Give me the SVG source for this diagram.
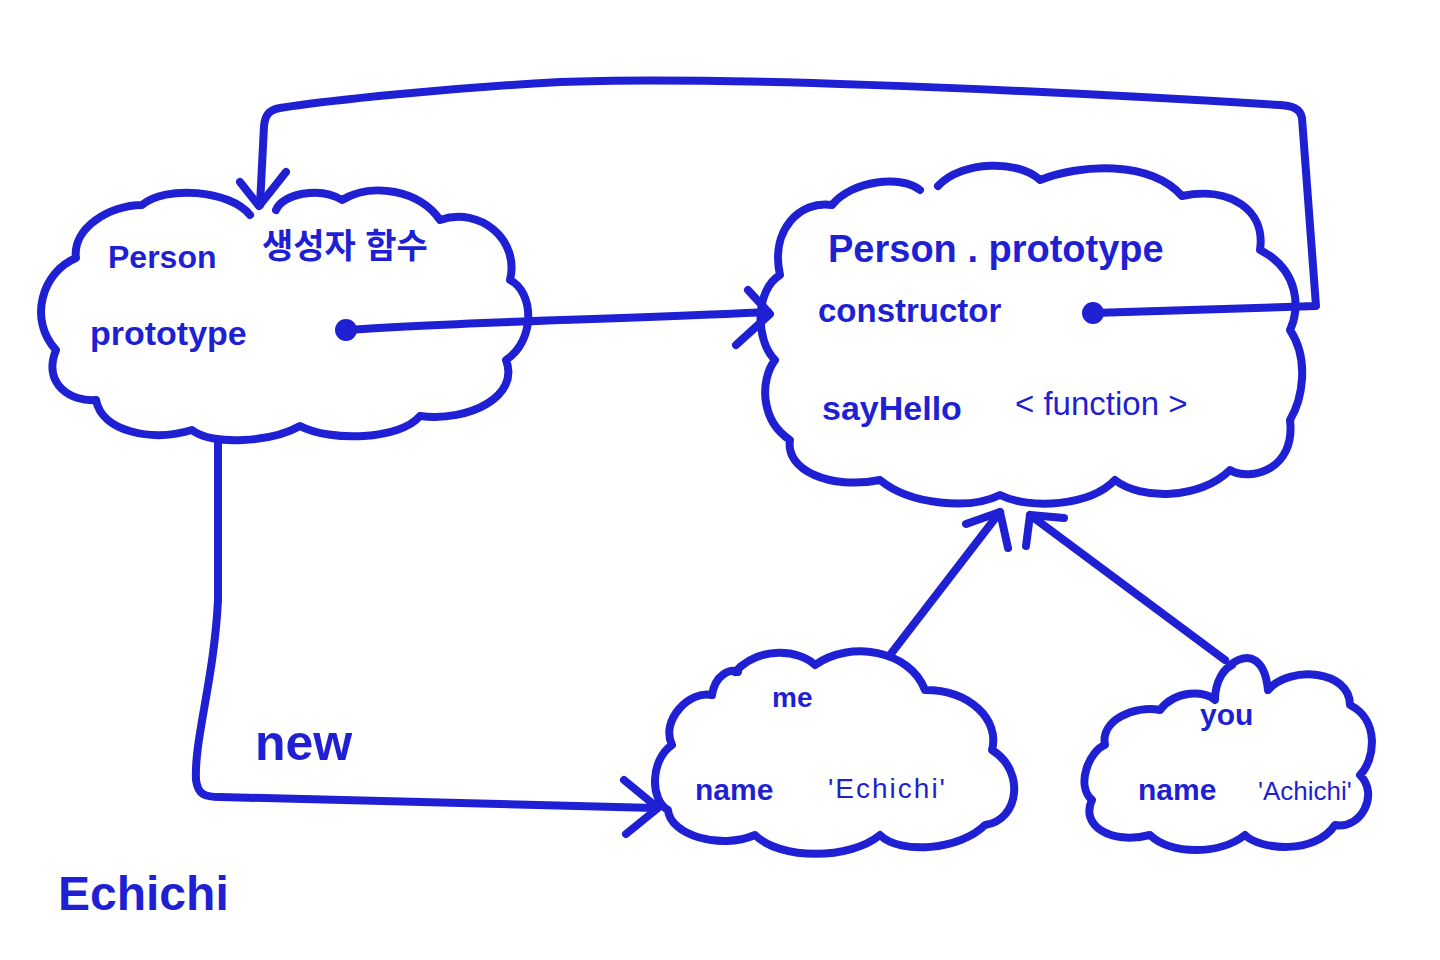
<svg xmlns="http://www.w3.org/2000/svg" width="1440" height="960" viewBox="0 0 1440 960">
<style>
.ln{fill:none;stroke:#1f1fd4;stroke-width:8;stroke-linecap:round;stroke-linejoin:round}
.t{fill:#1f1fd4;font-family:"Liberation Sans","Noto Sans CJK KR",sans-serif}
.b{font-weight:bold}
.dot{fill:#1f1fd4}
</style>
<rect width="1440" height="960" fill="#ffffff"/>
<g id="person">
<path class="ln" d="M250 215 C230 190,165 185,142 205 C110 205,72 228,76 258 C42 272,28 320,56 350 C42 385,72 402,96 400 C102 432,152 442,192 430 C212 446,272 442,300 426 C330 442,400 440,420 416 C470 422,520 396,506 360 C536 340,534 292,510 280 C520 240,480 206,440 220 C420 190,372 182,342 200 C320 186,282 194,276 210"/>
<text class="t b" x="108" y="268" font-size="32">Person</text>
<text class="t b" x="262" y="258" font-size="34">생성자 함수</text>
<text class="t b" x="90" y="345" font-size="34">prototype</text>
<circle class="dot" cx="346" cy="330" r="11"/>
</g>
<g id="person-prototype">
<path class="ln" d="M938 186 C962 160,1020 160,1040 180 C1080 164,1150 160,1182 196 C1230 186,1266 210,1260 250 C1300 270,1300 310,1290 330 C1310 360,1302 400,1290 420 C1296 470,1250 482,1230 470 C1200 500,1140 500,1115 480 C1090 506,1030 510,1000 495 C970 510,910 505,880 480 C830 490,785 470,790 440 C760 420,760 380,775 360 C755 340,755 290,780 275 C770 230,800 200,832 205 C852 180,902 175,920 190"/>
<text class="t b" x="828" y="262" font-size="38">Person . prototype</text>
<text class="t b" x="818" y="322" font-size="33">constructor</text>
<text class="t b" x="822" y="420" font-size="34">sayHello</text>
<text class="t" x="1015" y="415" font-size="33">&lt; function &gt;</text>
<circle class="dot" cx="1093" cy="313" r="11"/>
</g>
<g id="me">
<path class="ln" d="M735 672 C760 645,800 650,815 665 C850 640,910 650,925 690 C970 690,1000 720,992 750 C1025 770,1020 820,985 825 C960 850,900 855,880 835 C850 860,780 860,755 835 C720 850,670 835,668 810 C650 800,650 760,672 745 C660 720,690 690,712 695 C715 675,730 668,738 672"/>
<text class="t b" x="772" y="707" font-size="28">me</text>
<text class="t b" x="695" y="800" font-size="30">name</text>
<text class="t" x="828" y="798" font-size="28" letter-spacing="2">'Echichi'</text>
</g>
<g id="you">
<path class="ln" d="M1230 665 C1250 650,1265 660,1268 690 C1290 665,1350 670,1350 705 C1380 720,1375 760,1360 775 C1380 795,1360 830,1335 825 C1315 855,1260 850,1245 835 C1220 855,1170 855,1150 835 C1110 845,1080 825,1092 800 C1075 785,1090 750,1105 745 C1100 720,1135 705,1160 710 C1175 690,1205 690,1215 700 C1215 680,1225 668,1232 665"/>
<text class="t b" x="1200" y="725" font-size="30">you</text>
<text class="t b" x="1138" y="800" font-size="30">name</text>
<text class="t" x="1258" y="800" font-size="26">'Achichi'</text>
</g>
<g id="connectors">
<path class="ln" d="M346 330 C450 322,600 320,768 312"/>
<path class="ln" d="M748 290 L770 314 L736 345"/>
<path class="ln" d="M1093 313 L1316 306 L1302 118 C1300 108,1292 106,1280 105 C1000 88,700 76,560 82 C450 88,330 100,280 108 C268 110,265 116,264 126 L260 205"/>
<path class="ln" d="M240 182 L259 206 L286 172"/>
<path class="ln" d="M218 440 L218 600 C214 680,194 740,196 780 C198 795,205 797,220 797 L655 808"/>
<path class="ln" d="M624 780 L658 808 L626 834"/>
<path class="ln" d="M890 655 L1000 512"/>
<path class="ln" d="M966 524 L1000 512 L1008 548"/>
<path class="ln" d="M1225 660 L1030 515"/>
<path class="ln" d="M1026 546 L1030 515 L1064 518"/>
</g>
<text class="t b" x="255" y="760" font-size="50">new</text>
<text class="t b" x="58" y="910" font-size="48">Echichi</text>
</svg>
